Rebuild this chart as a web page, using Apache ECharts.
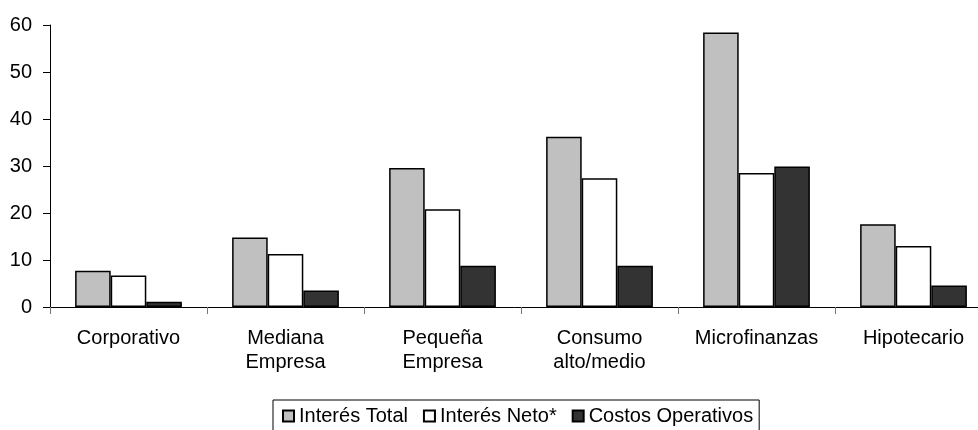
<!DOCTYPE html>
<html>
<head>
<meta charset="utf-8">
<script src="https://cdn.jsdelivr.net/npm/echarts@6/dist/echarts.min.js"></script>
<style>
html, body { margin: 0; padding: 0; background: #fff; }
#chart { width: 978px; height: 430px; }
</style>
</head>
<body>
<div id="chart"></div>
<script>
var categories = ['Corporativo', 'Mediana\nEmpresa', 'Pequeña\nEmpresa', 'Consumo\nalto/medio', 'Microfinanzas', 'Hipotecario'];
var interesTotal = [7.7, 14.8, 29.6, 36.2, 58.4, 17.6];
var interesNeto = [6.7, 11.3, 20.8, 27.4, 28.5, 13.0];
var costosOperativos = [1.1, 3.5, 8.8, 8.8, 29.9, 4.6];

var font = 'Liberation Sans, Arial, sans-serif';

var chart = echarts.init(document.getElementById('chart'));
chart.setOption({
	animation: false,
	textStyle: {fontFamily: font},
	grid: {
		left: 50,
		top: 25,
		width: 942,
		height: 282,
		outerBoundsMode: 'none',
		containLabel: false
	},
	legend: {
		left: 273,
		top: 400,
		icon: 'rect',
		itemWidth: 11,
		itemHeight: 11,
		itemGap: 15,
		borderColor: '#000',
		borderWidth: 1,
		borderRadius: 0,
		padding: [6, 6, 20, 9],
		textStyle: {fontSize: 20, color: '#000', fontFamily: font},
		data: ['Interés Total', 'Interés Neto*', 'Costos Operativos']
	},
	xAxis: {
		type: 'category',
		data: categories,
		axisLine: {lineStyle: {color: '#000', width: 1}},
		axisTick: {show: true, length: 7, lineStyle: {color: '#777'}},
		axisLabel: {fontSize: 20, color: '#000', lineHeight: 24, margin: 19, fontFamily: font, interval: 0}
	},
	yAxis: {
		type: 'value',
		min: 0,
		max: 60,
		interval: 10,
		splitLine: {show: false},
		axisLine: {show: true, lineStyle: {color: '#000', width: 1}},
		axisTick: {show: true, length: 7, lineStyle: {color: '#000'}},
		axisLabel: {fontSize: 20, color: '#000', margin: 18, fontFamily: font}
	},
	series: [
		{
			name: 'Interés Total',
			type: 'bar',
			barGap: '0%',
			barCategoryGap: '32%',
			itemStyle: {color: '#C0C0C0', borderColor: '#000', borderWidth: 1.5},
			data: interesTotal
		},
		{
			name: 'Interés Neto*',
			type: 'bar',
			itemStyle: {color: '#FFFFFF', borderColor: '#000', borderWidth: 1.5},
			data: interesNeto
		},
		{
			name: 'Costos Operativos',
			type: 'bar',
			itemStyle: {color: '#333333', borderColor: '#000', borderWidth: 1.5},
			data: costosOperativos
		}
	]
});
</script>
</body>
</html>
